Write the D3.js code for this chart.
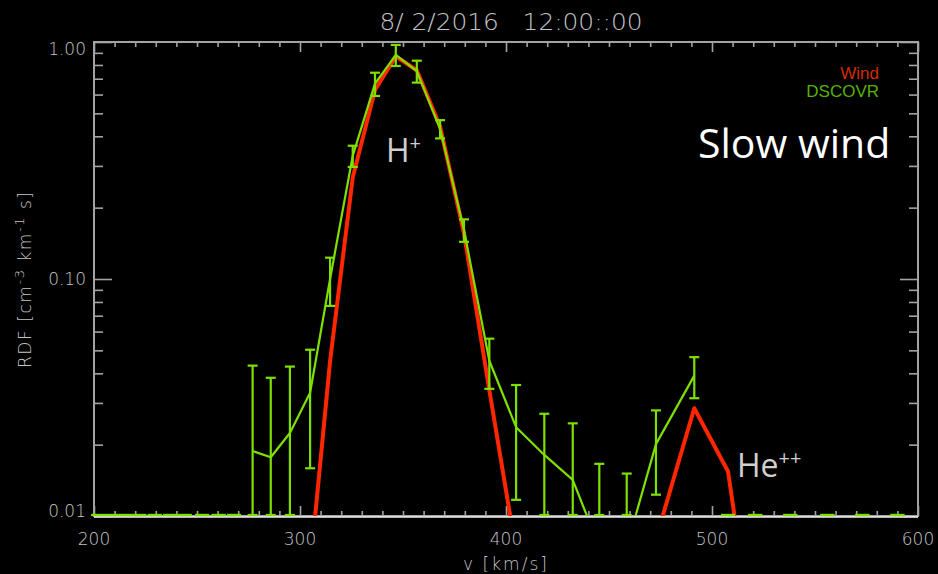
<!DOCTYPE html>
<html>
<head>
<meta charset="utf-8">
<script src="https://cdn.jsdelivr.net/npm/d3@7/dist/d3.min.js"></script>
<style>
  html, body { margin: 0; padding: 0; background: #000; }
  svg { display: block; }
  text { white-space: pre; }
</style>
</head>
<body>
<svg id="chart" width="938" height="574"></svg>
<script>
// Speed bins [km/s] shared by both instruments
const speedBins = [202, 208.6, 215.3, 222, 229.5, 237, 244, 252.5, 260.5, 268,
                   277.0, 285.8, 295.1, 304.9, 314.6, 325.6, 336.4, 346.5, 356.7, 368.0,
                   379.6, 391.9, 404.9, 418.6, 432.4, 445.3, 458.6, 472.8, 491.4, 507.8,
                   521, 538, 556, 573, 590];

// DSCOVR reduced distribution function and its 1-sigma uncertainty
const dscovrRdf = [0, 0, 0, 0, 0, 0, 0, 0, 0, 0,
                   0.0188, 0.0177, 0.0224, 0.0331, 0.100, 0.331, 0.667, 0.882, 0.754, 0.430,
                   0.161, 0.0452, 0.0237, 0.0181, 0.0142, 0.0074, 0.0074, 0.0201, 0.0391, 0,
                   0, 0, 0, 0, 0];
const dscovrErr = [0, 0, 0, 0, 0, 0, 0, 0, 0, 0,
                   0.0243, 0.0206, 0.0203, 0.0172, 0.023, 0.034, 0.075, 0.090, 0.080, 0.038,
                   0.0175, 0.0108, 0.012, 0.0089, 0.0104, 0.0092, 0.0077, 0.0078, 0.0077, 0,
                   0, 0, 0, 0, 0];

// Wind reduced distribution function (null = no sample)
const windRdf = [null, null, null, null, null, null, null, null, null, null,
                 null, null, null, 0.006, 0.045, 0.268, 0.627, 0.870, 0.760, 0.440,
                 0.156, 0.034, 0.0071, 0.004, 0.003, 0.003, 0.004, 0.008, 0.0285, 0.0154,
                 0.0025, null, null, null, null];

const xTickValues = [200, 300, 400, 500, 600];
const yTickValues = [0.01, 0.1, 1];
const yTickLabels = ["0.01", "0.10", "1.00"];
const seriesNames = ["Wind", "DSCOVR"];
const titleText = "8/ 2/2016   12:00::00";

const svg = d3.select("#chart");
const W = 938, H = 574;
const box = { left: 94, right: 918, top: 42, bottom: 516 };

svg.append("rect").attr("width", W).attr("height", H).attr("fill", "#000");

const x = d3.scaleLinear().domain([200, 600]).range([box.left, box.right]);
const y = d3.scaleLog().domain([0.01, 1]).range([box.bottom, box.top]);
const [yMin, yMax] = y.domain();

const axisColor = "#a3a3a3";
const textColor = "#c4c4c4";
const labelFont = "'DejaVu Sans', sans-serif";
const labelWeight = 200;
const redColor = "#ff2600";
const greenColor = "#7fe000";

// ---- tick marks (IDL style, pointing inward on all four sides)
const xMinor = d3.range(200, 601, 10).filter(v => v % 100 !== 0);
const yMinor = [];
[0.01, 0.1].forEach(d => { for (let k = 2; k <= 9; k++) yMinor.push(+(d * k).toPrecision(3)); });

function styleAxis(g) {
  g.select(".domain").remove();
  g.selectAll(".tick line").attr("stroke", axisColor).attr("stroke-width", 1.6);
}

svg.append("g").attr("transform", `translate(0,${box.bottom})`)
  .call(d3.axisBottom(x).tickValues(xMinor).tickSize(-5).tickFormat("")).call(styleAxis);
svg.append("g").attr("transform", `translate(0,${box.bottom})`)
  .call(d3.axisBottom(x).tickValues(xTickValues).tickSize(-10).tickFormat("")).call(styleAxis);
svg.append("g").attr("transform", `translate(0,${box.top})`)
  .call(d3.axisTop(x).tickValues(xMinor).tickSize(-5).tickFormat("")).call(styleAxis);
svg.append("g").attr("transform", `translate(0,${box.top})`)
  .call(d3.axisTop(x).tickValues(xTickValues).tickSize(-10).tickFormat("")).call(styleAxis);

svg.append("g").attr("transform", `translate(${box.left},0)`)
  .call(d3.axisLeft(y).tickValues(yMinor).tickSize(-9).tickFormat("")).call(styleAxis);
svg.append("g").attr("transform", `translate(${box.left},0)`)
  .call(d3.axisLeft(y).tickValues(yTickValues).tickSize(-18).tickFormat("")).call(styleAxis);
svg.append("g").attr("transform", `translate(${box.right},0)`)
  .call(d3.axisRight(y).tickValues(yMinor).tickSize(-9).tickFormat("")).call(styleAxis);
svg.append("g").attr("transform", `translate(${box.right},0)`)
  .call(d3.axisRight(y).tickValues(yTickValues).tickSize(-18).tickFormat("")).call(styleAxis);

// ---- frame
svg.append("rect")
  .attr("x", box.left).attr("y", box.top)
  .attr("width", box.right - box.left).attr("height", box.bottom - box.top)
  .attr("fill", "none").attr("stroke", axisColor).attr("stroke-width", 2);

// bottom axis line drawn bright
svg.append("line")
  .attr("x1", box.left).attr("x2", box.right)
  .attr("y1", box.bottom + 1).attr("y2", box.bottom + 1)
  .attr("stroke", "#f2f2f2").attr("stroke-width", 1.6);

// ---- tick labels
svg.append("g").selectAll("text").data(xTickValues).join("text")
  .attr("x", d => x(d)).attr("y", box.bottom + 29)
  .attr("text-anchor", "middle")
  .attr("font-family", labelFont).attr("font-weight", labelWeight)
  .attr("font-size", 17).attr("fill", textColor)
  .text(d => d);

svg.append("g").selectAll("text").data(yTickValues).join("text")
  .attr("x", box.left - 8)
  .attr("y", d => Math.min(Math.max(y(d), box.top + 7), box.bottom - 5))
  .attr("dy", "0.36em")
  .attr("text-anchor", "end")
  .attr("font-family", labelFont).attr("font-weight", labelWeight)
  .attr("font-size", 17).attr("fill", textColor)
  .text((d, i) => yTickLabels[i]);

// ---- axis titles and plot title
svg.append("text")
  .attr("x", 505).attr("y", 570)
  .attr("text-anchor", "middle")
  .attr("font-family", labelFont).attr("font-weight", labelWeight)
  .attr("font-size", 17).attr("fill", textColor)
  .attr("textLength", 84).attr("lengthAdjust", "spacing")
  .text("v [km/s]");

const yTitle = svg.append("text")
  .attr("transform", `translate(31,${(box.top + box.bottom) / 2 + 1}) rotate(-90)`)
  .attr("text-anchor", "middle")
  .attr("font-family", labelFont).attr("font-weight", labelWeight)
  .attr("font-size", 17).attr("fill", textColor)
  .attr("textLength", 176).attr("lengthAdjust", "spacing");
yTitle.append("tspan").text("RDF [cm");
yTitle.append("tspan").attr("dy", -7).attr("font-size", 13).text("-3");
yTitle.append("tspan").attr("dy", 7).text(" km");
yTitle.append("tspan").attr("dy", -7).attr("font-size", 13).text("-1");
yTitle.append("tspan").attr("dy", 7).text(" s]");

svg.append("text")
  .attr("x", 511).attr("y", 30)
  .attr("text-anchor", "middle")
  .attr("font-family", labelFont).attr("font-weight", labelWeight)
  .attr("font-size", 23).attr("fill", textColor)
  .attr("textLength", 263).attr("lengthAdjust", "spacingAndGlyphs")
  .text(titleText);

// ---- data
const clipId = "plot-clip";
svg.append("clipPath").attr("id", clipId).append("rect")
  .attr("x", box.left).attr("y", box.top)
  .attr("width", box.right - box.left).attr("height", box.bottom - box.top);

const plot = svg.append("g").attr("clip-path", `url(#${clipId})`);

const windPts = speedBins.map((v, i) => ({ v, r: windRdf[i] }));
const dscovrPts = speedBins.map((v, i) => ({ v, r: dscovrRdf[i], e: dscovrErr[i] }));

const line = d3.line()
  .defined(d => d.r != null && d.r > 0)
  .x(d => x(d.v)).y(d => y(d.r));

plot.append("path").datum(windPts)
  .attr("d", line).attr("fill", "none")
  .attr("stroke", redColor).attr("stroke-width", 4).attr("stroke-linejoin", "round");

plot.append("path").datum(dscovrPts)
  .attr("d", line).attr("fill", "none")
  .attr("stroke", greenColor).attr("stroke-width", 2.2).attr("stroke-linejoin", "round");

// error bars, clamped to the plotted range
const clampY = r => y(Math.min(Math.max(r, yMin), yMax)) - (r <= yMin ? 1 : 0);
const capHalf = d => (d.r > 0 ? 5 : 7);
const bars = svg.append("g").selectAll("g").data(dscovrPts).join("g")
  .attr("stroke", greenColor).attr("stroke-width", 2.2);
bars.append("line")
  .attr("x1", d => x(d.v)).attr("x2", d => x(d.v))
  .attr("y1", d => clampY(d.r - d.e)).attr("y2", d => clampY(d.r + d.e));
bars.append("line")
  .attr("x1", d => x(d.v) - capHalf(d)).attr("x2", d => x(d.v) + capHalf(d))
  .attr("y1", d => clampY(d.r - d.e)).attr("y2", d => clampY(d.r - d.e));
bars.append("line")
  .attr("x1", d => x(d.v) - capHalf(d)).attr("x2", d => x(d.v) + capHalf(d))
  .attr("y1", d => clampY(d.r + d.e)).attr("y2", d => clampY(d.r + d.e));

// ---- legend
const legendColors = ["#d42a00", "#58b000"];
svg.append("g").selectAll("text").data(seriesNames).join("text")
  .attr("x", 879).attr("y", (d, i) => 79 + i * 18)
  .attr("text-anchor", "end")
  .attr("font-family", "'Liberation Sans', Arial, sans-serif").attr("font-size", 17)
  .attr("fill", (d, i) => legendColors[i])
  .text(d => d);

// ---- annotations
const noteFont = "'Open Sans', sans-serif";
const hp = svg.append("text").attr("x", 386).attr("y", 162)
  .attr("font-family", noteFont).attr("font-size", 32).attr("fill", "#cfcfcf");
hp.append("tspan").text("H");
hp.append("tspan").attr("dy", -12).attr("font-size", 20).text("+");

const hepp = svg.append("text").attr("x", 737).attr("y", 477)
  .attr("font-family", noteFont).attr("font-size", 32).attr("fill", "#cfcfcf");
hepp.append("tspan").text("He");
hepp.append("tspan").attr("dy", -12).attr("font-size", 20).text("++");

svg.append("text").attr("x", 698).attr("y", 158)
  .attr("font-family", noteFont).attr("font-size", 41).attr("fill", "#ffffff")
  .text("Slow wind");
</script>
</body>
</html>
